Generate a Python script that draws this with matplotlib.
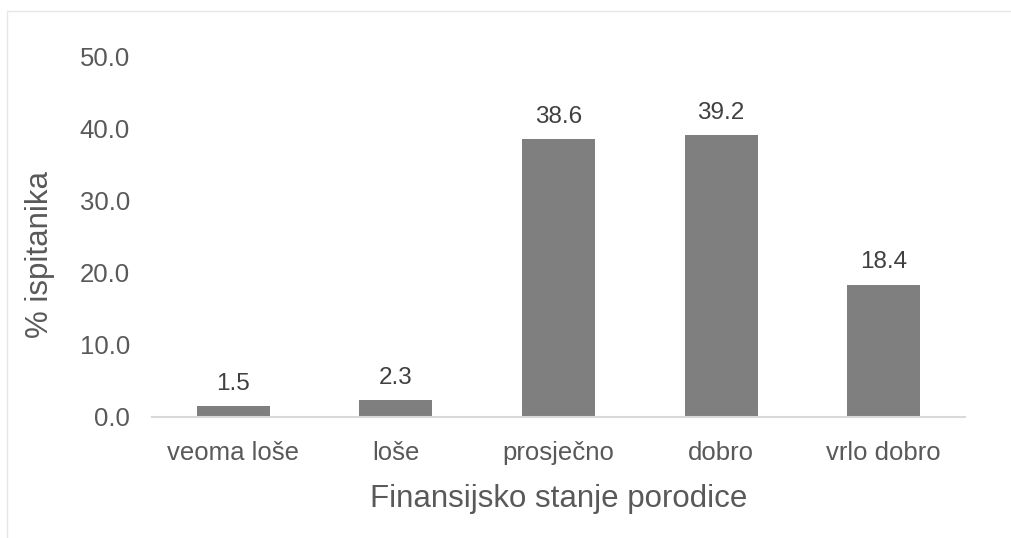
import matplotlib.pyplot as plt
from matplotlib.patches import Rectangle

plt.rcParams['font.family'] = ['Liberation Sans', 'DejaVu Sans']

kategorije = ['veoma loše', 'loše', 'prosječno', 'dobro', 'vrlo dobro']
procenti = [1.5, 2.3, 38.6, 39.2, 18.4]
y_ticks = [0, 10, 20, 30, 40, 50]

tekst = '#595959'

fig = plt.figure(figsize=(10.11, 5.38), dpi=100)
# tanki okvir oko grafikona
fig.patches.append(Rectangle((7 / 1011, -0.1), 1.1, (538 - 11) / 538 + 0.1,
                             transform=fig.transFigure, fill=False,
                             edgecolor='#e6e6e6', linewidth=1))

ax = fig.add_axes([152 / 1011, 1 - 417 / 538, (965 - 152) / 1011, (417 - 57) / 538])
x = range(len(kategorije))
bars = ax.bar(x, procenti, width=0.45, color='#7f7f7f')

for b, v in zip(bars, procenti):
    ax.annotate(f'{v:.1f}', (b.get_x() + b.get_width() / 2, v),
                xytext=(0, 8), textcoords='offset points',
                ha='center', va='bottom', fontsize=17.5, color='#404040')

ax.set_xlim(-0.5, len(kategorije) - 0.5)
ax.set_ylim(0, 50)
ax.set_yticks(y_ticks)
ax.set_yticklabels([f'{t:.1f}' for t in y_ticks])
ax.set_xticks(list(x))
ax.set_xticklabels(kategorije)
ax.tick_params(axis='both', length=0, labelcolor=tekst, labelsize=18.5)
ax.tick_params(axis='y', pad=16)
ax.tick_params(axis='x', pad=17)

for s in ['top', 'right', 'left']:
    ax.spines[s].set_visible(False)
ax.spines['bottom'].set_color('#d9d9d9')
ax.spines['bottom'].set_linewidth(1.5)

ax.set_xlabel('Finansijsko stanje porodice', fontsize=22.5, color=tekst, labelpad=14)
ax.set_ylabel('% ispitanika', fontsize=22.5, color=tekst, labelpad=18, y=0.45)

fig.savefig('out.png', dpi=100)
